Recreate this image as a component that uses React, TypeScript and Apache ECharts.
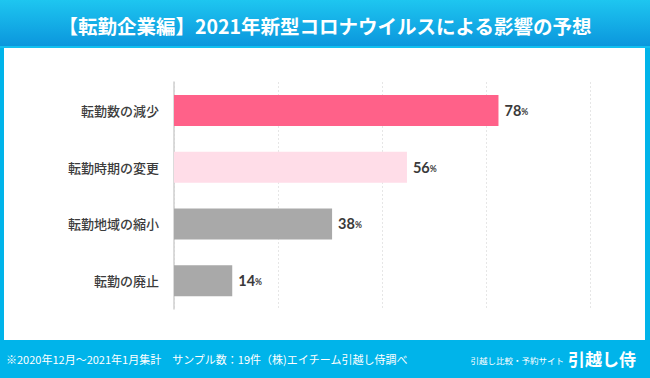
import React, { useEffect, useRef } from "react";
import * as echarts from "echarts";

const categories = ["転勤数の減少", "転勤時期の変更", "転勤地域の縮小", "転勤の廃止"];
const values = [78, 56, 38, 14];
const barColors = ["#ff6189", "#ffdde8", "#a9a9a9", "#a9a9a9"];
const xTicks = [0, 25, 50, 75, 100];

const titleText = "【転勤企業編】2021年新型コロナウイルスによる影響の予想";
const footerNote = "※2020年12月～2021年1月集計　サンプル数：19件（株)エイチーム引越し侍調べ";
const footerSub = "引越し比較・予約サイト";
const footerBrand = "引越し侍";

const JP = '"Noto Sans CJK JP", "Noto Sans", sans-serif';
const NUM = 'Lato, "Noto Sans", sans-serif';

export default function App() {
  const ref = useRef<HTMLDivElement>(null);
  useEffect(() => {
    if (!ref.current) return;
    const chart = echarts.init(ref.current, null, { renderer: "svg" });
    chart.setOption({
      animation: false,
      backgroundColor: "#ffffff",
      grid: { left: 174, right: 60, top: 82, height: 227, containLabel: false },
      xAxis: {
        type: "value",
        min: xTicks[0],
        max: xTicks[xTicks.length - 1],
        interval: 25,
        axisLabel: { show: false },
        axisLine: { show: false },
        axisTick: { show: false },
        splitLine: { show: true, lineStyle: { color: "#e6e6e6", type: [2, 2], width: 1 } },
      },
      yAxis: {
        type: "category",
        data: categories,
        inverse: true,
        axisLine: { show: true, lineStyle: { color: "#cfcfcf", width: 1.5 } },
        axisTick: { show: false },
        axisLabel: { color: "#3c3c3c", fontSize: 13, fontFamily: JP, fontWeight: 500, margin: 15 },
      },
      series: [
        {
          type: "bar",
          barWidth: 31,
          data: values.map((v, i) => ({ value: v, itemStyle: { color: barColors[i] } })),
          label: {
            show: true,
            position: "right",
            distance: 6,
            formatter: (p: any) => `{v|${p.value}}{p|%}`,
            rich: {
              v: { fontSize: 14.5, fontWeight: "bold", color: "#3a3a3a", fontFamily: NUM },
              p: { fontSize: 8.5, fontWeight: "bold", color: "#3a3a3a", fontFamily: NUM, padding: [3, 0, 0, 0] },
            },
          },
        },
      ],
      graphic: [
        {
          type: "rect",
          shape: { x: 0, y: 0, width: 650, height: 48 },
          style: {
            fill: new echarts.graphic.LinearGradient(0, 0, 0, 1, [
              { offset: 0, color: "#1ec6f0" },
              { offset: 1, color: "#0a94dc" },
            ]),
          },
          z: 10,
        },
        { type: "rect", shape: { x: 0, y: 46, width: 650, height: 2 }, style: { fill: "#12bff0" }, z: 11 },
        { type: "rect", shape: { x: 0, y: 48, width: 4, height: 292 }, style: { fill: "#00b4ea" }, z: 10 },
        { type: "rect", shape: { x: 645, y: 48, width: 5, height: 292 }, style: { fill: "#00b4ea" }, z: 10 },
        { type: "rect", shape: { x: 0, y: 340, width: 650, height: 38 }, style: { fill: "#00b4ea" }, z: 10 },
        {
          type: "text",
          x: 325,
          y: 25,
          style: {
            text: titleText,
            fill: "#ffffff",
            fontSize: 19.5,
            fontWeight: "bold",
            fontFamily: JP,
            align: "center",
            verticalAlign: "middle",
          },
          z: 12,
        },
        {
          type: "text",
          x: 6,
          y: 359,
          style: {
            text: footerNote,
            fill: "#ffffff",
            fontSize: 11,
            fontFamily: JP,
            align: "left",
            verticalAlign: "middle",
          },
          z: 12,
        },
        {
          type: "text",
          x: 564,
          y: 360,
          style: {
            text: footerSub,
            fill: "#ffffff",
            fontSize: 8.5,
            fontFamily: JP,
            align: "right",
            verticalAlign: "middle",
          },
          z: 12,
        },
        {
          type: "text",
          x: 636,
          y: 358,
          style: {
            text: footerBrand,
            fill: "#ffffff",
            fontSize: 17,
            fontWeight: "bold",
            fontFamily: JP,
            align: "right",
            verticalAlign: "middle",
          },
          z: 12,
        },
      ],
    });
    return () => chart.dispose();
  }, []);
  return <div ref={ref} style={{ width: 650, height: 378, position: "absolute", left: 0, top: 0 }} />;
}
